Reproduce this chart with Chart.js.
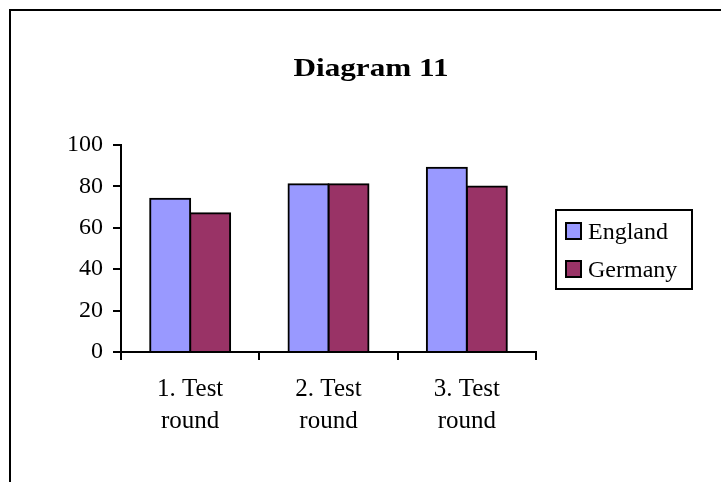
<!DOCTYPE html>
<html>
<head>
<meta charset="utf-8">
<script src="https://cdn.jsdelivr.net/npm/chart.js@4/dist/chart.umd.min.js"></script>
<style>
  html, body { margin: 0; padding: 0; background: #ffffff; }
  #wrap { position: absolute; left: 0; top: 0; width: 721px; height: 482px; }
</style>
</head>
<body>
<div id="wrap"><canvas id="c" width="721" height="482"></canvas></div>
<script>
// ---- data ----
const titleText = 'Diagram 11';
const categories = [['1. Test', 'round'], ['2. Test', 'round'], ['3. Test', 'round']];
const seriesNames = ['England', 'Germany'];
const englandValues = [74, 81, 89];
const germanyValues = [67, 81, 80];
const yTicks = [0, 20, 40, 60, 80, 100];

const colors = ['#9999FF', '#993366'];
const serif = "'Liberation Serif', 'Times New Roman', serif";

const decorPlugin = {
  id: 'decor',
  beforeDraw(chart) {
    const ctx = chart.ctx;
    ctx.save();
    ctx.fillStyle = '#ffffff';
    ctx.fillRect(0, 0, chart.width, chart.height);
    // outer frame (left & top edges visible)
    ctx.strokeStyle = '#000000';
    ctx.lineWidth = 2;
    ctx.beginPath();
    ctx.moveTo(10, chart.height + 2);
    ctx.lineTo(10, 10);
    ctx.lineTo(chart.width + 2, 10);
    ctx.stroke();
    ctx.restore();
  },
  afterDraw(chart) {
    const ctx = chart.ctx;
    ctx.save();
    // title (slightly widened, as in the reference)
    ctx.fillStyle = '#000000';
    ctx.font = 'bold 26px ' + serif;
    ctx.textAlign = 'center';
    ctx.textBaseline = 'alphabetic';
    ctx.translate(371, 76);
    ctx.scale(1.2, 1);
    ctx.fillText(titleText, 0, 0);
    ctx.setTransform(1, 0, 0, 1, 0, 0);
    // legend
    const bx = 556, by = 210, bw = 136, bh = 79;
    ctx.lineWidth = 2;
    ctx.strokeStyle = '#000000';
    ctx.strokeRect(bx, by, bw, bh);
    ctx.font = '24px ' + serif;
    ctx.textAlign = 'left';
    chart.data.datasets.forEach((ds, i) => {
      const sy = 223 + i * 38;
      ctx.fillStyle = ds.backgroundColor;
      ctx.fillRect(566, sy, 15, 16);
      ctx.strokeRect(566, sy, 15, 16);
      ctx.fillStyle = '#000000';
      ctx.fillText(ds.label, 588, sy + 16);
    });
    ctx.restore();
  }
};

new Chart(document.getElementById('c'), {
  type: 'bar',
  data: {
    labels: categories,
    datasets: [
      { label: seriesNames[0], data: englandValues, backgroundColor: colors[0], borderColor: '#000000', borderWidth: 2, inflateAmount: 1 },
      { label: seriesNames[1], data: germanyValues, backgroundColor: colors[1], borderColor: '#000000', borderWidth: 2, inflateAmount: 1 }
    ]
  },
  options: {
    responsive: false,
    animation: false,
    devicePixelRatio: 1,
    layout: { padding: { top: 145, left: 0, right: 185, bottom: 30 } },
    datasets: { bar: { categoryPercentage: 0.578, barPercentage: 1.0 } },
    plugins: {
      legend: { display: false },
      title: { display: false },
      tooltip: { enabled: false }
    },
    scales: {
      x: {
        grid: { display: true, drawOnChartArea: false, drawTicks: true, tickLength: 8, color: '#000000', lineWidth: 2, offset: true },
        border: { display: true, color: '#000000', width: 2, z: 1 },
        ticks: { color: '#000000', font: { family: serif, size: 25, lineHeight: 1.26 }, padding: 14, maxRotation: 0, autoSkip: false },
        afterFit(scale) { scale.height = 100; }
      },
      y: {
        min: 0,
        max: 100,
        afterBuildTicks(scale) { scale.ticks = yTicks.map(v => ({ value: v })); },
        grid: { display: true, drawOnChartArea: false, drawTicks: true, tickLength: 8, color: '#000000', lineWidth: 2 },
        border: { display: true, color: '#000000', width: 2 },
        ticks: { color: '#000000', font: { family: serif, size: 24 }, padding: 10 },
        afterFit(scale) { scale.width = 121; }
      }
    }
  },
  plugins: [decorPlugin]
});
</script>
</body>
</html>
